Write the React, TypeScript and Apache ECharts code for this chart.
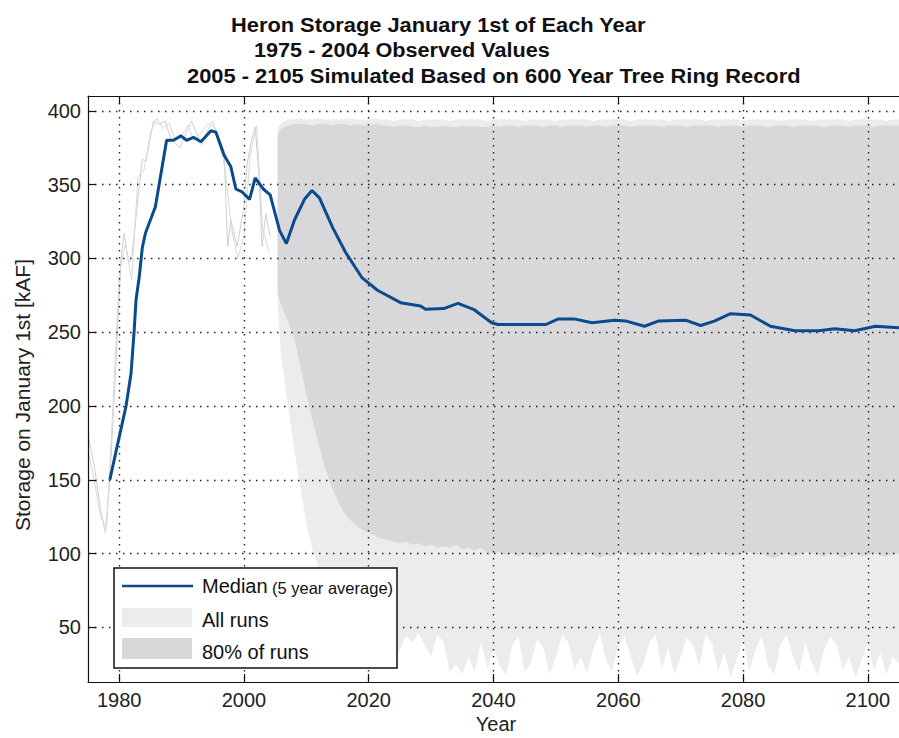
import React, { useEffect, useRef } from "react";
import * as echarts from "echarts";

// ---------- text ----------
const titleLines = [
  "Heron Storage January 1st of Each Year",
  "1975 - 2004 Observed Values",
  "2005 - 2105 Simulated Based on 600 Year Tree Ring Record",
];
const yAxisTitle = "Storage on January 1st [kAF]";
const xAxisTitle = "Year";
const legendLabels = ["Median", "(5 year average)", "All runs", "80% of runs"];

// ---------- ticks ----------
const xTicks = [1980, 2000, 2020, 2040, 2060, 2080, 2100];
const yTicks = [50, 100, 150, 200, 250, 300, 350, 400];

// ---------- median (5 year average) ----------
const medianYears = [
  1978.5, 1979.9, 1981.1, 1981.9, 1982.4, 1982.7, 1983.2, 1983.7, 1984.2, 1985.8,
  1987.6, 1988.7, 1989.9, 1990.8, 1991.9, 1993.1, 1994.7, 1995.5, 1996.8, 1997.9,
  1998.7, 1999.7, 2000.9, 2001.8, 2003.1, 2004.2, 2005.7, 2006.8, 2008.1, 2009.7,
  2010.9, 2012.1, 2014.2, 2016.3, 2018.9, 2021.4, 2025.1, 2028.3, 2029.1, 2032,
  2034.3, 2036.8, 2039.7, 2040.7, 2048.4, 2050.4, 2052.9, 2055.8, 2059.4, 2061.3,
  2064.2, 2066.4, 2070.9, 2073.2, 2075.4, 2078, 2081.2, 2084.4, 2088.3, 2092.1,
  2094.7, 2097.9, 2101.2, 2105,
];
const medianValues = [
  150, 177, 200, 222, 251, 272, 287, 307, 317, 335,
  380, 380, 383, 380, 382, 379, 386.5, 385.5, 370, 362,
  347, 345, 340, 354.5, 347, 343, 319, 310, 326, 340,
  346, 341, 321, 304, 287, 278.4, 270, 267.7, 265.5, 266,
  269.5, 265.5, 256.4, 255.2, 255.2, 259, 259, 256.4, 258, 257.5,
  254, 257.5, 258, 254.5, 257.5, 262.5, 261.6, 254, 251, 251,
  252.3, 251, 254, 253,
];

// ---------- observed annual records (thin grey) ----------
const obsAYears = [
  1975, 1976, 1977, 1977.8, 1978.5, 1979.5, 1980.3, 1980.8, 1981.5, 1982,
  1983, 1983.7, 1984.3, 1985.5, 1986.3, 1987.4, 1988.2, 1989, 1989.8, 1990.7,
  1991.6, 1992.4, 1993.2, 1994, 1994.7, 1995.5, 1996.8, 1997.4, 1997.9, 1998.9,
  2000, 2000.5, 2001.2, 2001.8, 2002.4, 2002.9, 2003.5, 2004.2,
];
const obsAValues = [
  180, 160, 130, 114, 150, 230, 300, 317, 297, 300,
  340, 367, 366, 393, 391, 393, 382, 378, 375, 385,
  393, 385, 377, 385, 391, 387, 373, 308, 326, 308,
  335, 364, 380, 389, 357, 308, 330, 315,
];
const obsBYears = [
  1975, 1976, 1977, 1978, 1979, 1980, 1981, 1982, 1983, 1984,
  1985, 1986, 1987, 1988, 1989, 1990, 1991, 1992, 1993, 1994,
  1995, 1996, 1997, 1998, 1999, 2000, 2001, 2002, 2003, 2004,
];
const obsBValues = [
  170, 150, 125, 118, 200, 290, 310, 285, 355, 360,
  385, 395, 388, 392, 380, 383, 390, 380, 384, 390,
  393, 380, 360, 320, 300, 315, 370, 390, 320, 305,
];

// ---------- simulated envelopes ----------
const bandStartYear = 2005.4;
const bandYears = [bandStartYear, ...Array.from({ length: 100 }, (_, i) => 2006 + i)];

const allUpper = [
  388,
  392, 394, 394, 395, 394, 394, 395, 394, 394, 394,
  394, 395, 394, 394, 394, 395, 394, 394, 393, 394,
  394, 394, 393, 394, 394, 394, 394, 393, 394, 394,
  394, 394, 394, 393, 394, 394, 394, 394, 394, 393,
  394, 394, 394, 394, 393, 394, 394, 394, 394, 394,
  393, 394, 394, 394, 394, 394, 393, 394, 394, 394,
  394, 394, 393, 394, 394, 394, 394, 394, 393, 394,
  394, 394, 394, 394, 393, 394, 394, 394, 394, 394,
  393, 394, 394, 394, 394, 393, 394, 394, 394, 394,
  394, 393, 394, 394, 394, 394, 394, 393, 394, 394,
];
const allLower = [
  268,
  232, 202, 172, 146, 120, 102, 90, 80, 72, 65, 60, 55, 51, 48, 45,
  42, 38, 30, 22, 35, 44, 40, 46, 38, 30,
  45, 40, 20, 25, 18, 30, 20, 40, 22, 35,
  24, 18, 38, 44, 20, 26, 42, 36, 18, 30,
  45, 40, 22, 30, 19, 35, 46, 28, 20, 38,
  44, 30, 17, 25, 40, 45, 22, 36, 18, 30,
  43, 38, 24, 45, 40, 20, 33, 16, 28, 42,
  20, 35, 44, 24, 18, 38, 45, 30, 20, 40,
  26, 17, 35, 44, 38, 22, 30, 16, 27, 40,
  21, 33, 18, 30, 25,
];
const p80Upper = [
  384,
  388, 390, 391, 391, 391, 390, 391, 391, 390, 391,
  391, 390, 391, 390, 390, 391, 390, 390, 389, 390,
  390, 389, 389, 390, 389, 389, 390, 389, 389, 390,
  389, 390, 389, 389, 390, 389, 390, 390, 389, 390,
  390, 390, 389, 390, 390, 389, 390, 390, 390, 389,
  390, 390, 389, 390, 390, 390, 389, 390, 390, 390,
  390, 389, 390, 390, 390, 389, 390, 390, 390, 390,
  389, 390, 390, 390, 389, 390, 390, 390, 389, 390,
  390, 390, 389, 390, 390, 390, 390, 389, 390, 390,
  390, 389, 390, 390, 390, 389, 390, 390, 390, 390,
];
const p80Lower = [
  276,
  268, 258, 247, 228, 208, 190, 174, 158, 146, 136, 128, 123, 119, 116, 114,
  112, 110, 109, 108, 107, 108, 106, 107, 105, 106,
  104, 105, 104, 106, 103, 104, 102, 104, 101, 100,
  101, 99, 100, 98, 100, 99, 97, 99, 100, 98,
  99, 101, 99, 98, 100, 99, 97, 99, 98, 100,
  101, 99, 98, 100, 99, 101, 100, 98, 99, 101,
  100, 99, 98, 100, 101, 99, 100, 98, 99, 100,
  101, 99, 100, 98, 97, 99, 100, 98, 99, 101,
  100, 99, 98, 100, 99, 97, 99, 100, 98, 99,
  100, 99, 98, 99, 100,
];

const pairs = (xs: number[], ys: number[]) => xs.map((x, i) => [x, ys[i]]);
const triples = (xs: number[], lo: number[], hi: number[]) => xs.map((x, i) => [x, lo[i], hi[i]]);

// custom series drawing one filled band polygon from [x, lo, hi] rows
const bandSeries = (name: string, rows: number[][], color: string, z: number) => ({
  name,
  type: "custom",
  silent: true,
  z,
  encode: { x: 0, y: [1, 2] },
  data: rows,
  renderItem: (params: any, api: any) => {
    if (params.dataIndex !== 0) return null;
    const top = rows.map((r) => api.coord([r[0], r[2]]));
    const bottom = rows.map((r) => api.coord([r[0], r[1]])).reverse();
    return {
      type: "polygon",
      shape: { points: top.concat(bottom) },
      style: { fill: color, stroke: "none" },
    };
  },
});

export default function App() {
  const ref = useRef<HTMLDivElement>(null);

  useEffect(() => {
    if (!ref.current) return;
    const chart = echarts.init(ref.current, null, { renderer: "svg" });

    const ctx = document.createElement("canvas").getContext("2d")!;
    const measure = (text: string, font: string) => {
      ctx.font = font;
      return ctx.measureText(text).width;
    };
    const titleFamily = '"Liberation Sans", Arial, sans-serif';
    const titleSize = 21;
    const titleFont = `bold ${titleSize}px ${titleFamily}`;
    const titleLeft = [231, 254, 187];
    const titleRight = [646, 550, 801];
    const titleY = [25, 50, 76];

    const titleGraphics = titleLines.map((t, i) => ({
      type: "text",
      x: titleLeft[i],
      y: titleY[i],
      z: 100,
      scaleX: (titleRight[i] - titleLeft[i]) / measure(t, titleFont),
      style: {
        text: t,
        fontFamily: titleFamily,
        fontSize: titleSize,
        fontWeight: "bold",
        fill: "#111",
        align: "left",
        verticalAlign: "middle",
      },
    }));

    const textFamily = '"Liberation Sans", Arial, sans-serif';
    const blue = "#0b4a8c";
    const lightGrey = "#ececec";
    const midGrey = "#d8d8da";
    const plain = (v: number) => String(v);

    const option: any = {
      animation: false,
      backgroundColor: "#ffffff",
      grid: { left: 88, top: 96, right: -14.5, bottom: 56, containLabel: false },
      xAxis: [
        {
          type: "value",
          min: 1975,
          max: 2105,
          z: 5,
          axisLine: { show: true, onZero: false, lineStyle: { color: "#111", width: 1.2 } },
          axisTick: { show: true, inside: true, length: 8, customValues: xTicks, lineStyle: { color: "#111", width: 1.2 } },
          axisLabel: {
            customValues: xTicks,
            formatter: plain,
            fontSize: 20,
            fontFamily: textFamily,
            color: "#222",
            margin: 8,
          },
          splitLine: { show: true, lineStyle: { color: "#222", width: 1.4, type: [1.5, 5.5] } },
        },
        {
          type: "value",
          position: "top",
          min: 1975,
          max: 2105,
          z: 5,
          axisLine: { show: true, onZero: false, lineStyle: { color: "#111", width: 1.2 } },
          axisTick: { show: true, inside: true, length: 8, customValues: xTicks, lineStyle: { color: "#111", width: 1.2 } },
          axisLabel: { show: false },
          splitLine: { show: false },
        },
      ],
      yAxis: {
        type: "value",
        min: 13,
        max: 410,
        z: 5,
        axisLine: { show: true, onZero: false, lineStyle: { color: "#111", width: 1.2 } },
        axisTick: { show: true, inside: true, length: 8, customValues: yTicks, lineStyle: { color: "#111", width: 1.2 } },
        axisLabel: {
          customValues: yTicks,
          formatter: plain,
          fontSize: 20,
          fontFamily: textFamily,
          color: "#222",
          margin: 7,
        },
        splitLine: { show: true, lineStyle: { color: "#222", width: 1.4, type: [1.5, 5.5] } },
      },
      series: [
        bandSeries("All runs", triples(bandYears, allLower, allUpper), lightGrey, 1),
        bandSeries("80% of runs", triples(bandYears, p80Lower, p80Upper), midGrey, 2),
        {
          name: "obsA",
          type: "line",
          data: pairs(obsAYears, obsAValues),
          symbol: "none",
          lineStyle: { color: "#cfcfcf", width: 1 },
          z: 3,
        },
        {
          name: "obsB",
          type: "line",
          data: pairs(obsBYears, obsBValues),
          symbol: "none",
          lineStyle: { color: "#d9d9d9", width: 1 },
          z: 3,
        },
        {
          name: "Median",
          type: "line",
          data: pairs(medianYears, medianValues),
          symbol: "none",
          lineStyle: { color: blue, width: 3 },
          z: 10,
        },
      ],
      graphic: [
        ...titleGraphics,
        {
          type: "text",
          x: 22,
          y: 395,
          z: 100,
          rotation: Math.PI / 2,
          style: {
            text: yAxisTitle,
            fontFamily: textFamily,
            fontSize: 21,
            fill: "#222",
            align: "center",
            verticalAlign: "middle",
          },
        },
        {
          type: "text",
          x: 496,
          y: 724,
          z: 100,
          style: {
            text: xAxisTitle,
            fontFamily: textFamily,
            fontSize: 20,
            fill: "#222",
            align: "center",
            verticalAlign: "middle",
          },
        },
        {
          type: "rect",
          z: 100,
          shape: { x: 114, y: 568, width: 283, height: 100 },
          style: { fill: "#fff", stroke: "#111", lineWidth: 1.5 },
        },
        {
          type: "line",
          z: 101,
          shape: { x1: 122, y1: 586, x2: 193, y2: 586 },
          style: { stroke: blue, lineWidth: 2.5 },
        },
        {
          type: "rect",
          z: 101,
          shape: { x: 122, y: 608, width: 70, height: 19 },
          style: { fill: lightGrey },
        },
        {
          type: "rect",
          z: 101,
          shape: { x: 122, y: 638, width: 70, height: 21 },
          style: { fill: midGrey },
        },
        {
          type: "text",
          z: 101,
          x: 202,
          y: 586,
          style: { text: legendLabels[0], fontFamily: textFamily, fontSize: 20, fill: "#111", verticalAlign: "middle" },
        },
        {
          type: "text",
          z: 101,
          x: 272,
          y: 588,
          style: { text: legendLabels[1], fontFamily: textFamily, fontSize: 16.5, fill: "#111", verticalAlign: "middle" },
        },
        {
          type: "text",
          z: 101,
          x: 202,
          y: 620,
          style: { text: legendLabels[2], fontFamily: textFamily, fontSize: 20, fill: "#111", verticalAlign: "middle" },
        },
        {
          type: "text",
          z: 101,
          x: 202,
          y: 652,
          style: { text: legendLabels[3], fontFamily: textFamily, fontSize: 20, fill: "#111", verticalAlign: "middle" },
        },
      ],
    };

    chart.setOption(option);
    return () => chart.dispose();
  }, []);

  return (
    <div
      ref={ref}
      style={{ position: "fixed", left: 0, top: 0, width: 899, height: 738, background: "#fff" }}
    />
  );
}
